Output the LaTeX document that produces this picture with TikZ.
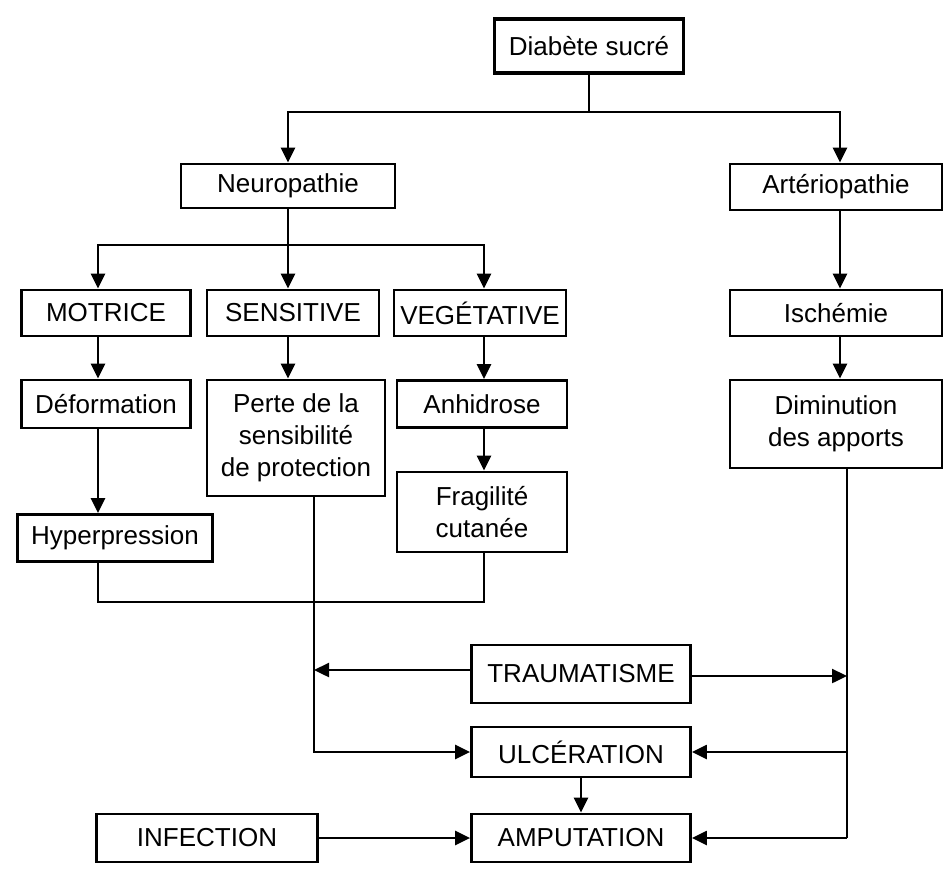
\documentclass[tikz,border=0pt]{standalone}
\usepackage{fontspec}
\setmainfont{Liberation Sans}
\usetikzlibrary{arrows.meta}
\begin{document}
\begin{tikzpicture}[x=1pt,y=-1pt,
  box/.style={draw,line width=2.8pt,inner sep=0pt,align=center,font=\fontsize{26}{32}\selectfont},
  conn/.style={line width=2.4pt},
  arr/.style={conn,-{Triangle[length=15pt,width=14pt]}}]
\useasboundingbox (0,0) rectangle (944,868);
\fill[white] (0,0) rectangle (944,868);
% nodes
\node[box,line width=3.6pt,minimum width=189pt,minimum height=54pt] (diab) at (589,46) {Diabète sucré};
\node[box,minimum width=214pt,minimum height=44pt] (neuro) at (288,186) {Neuropathie};
\node[box,minimum width=212pt,minimum height=46pt] (arter) at (836,187) {Artériopathie};
\node[box,minimum width=212pt,minimum height=46pt] (isch) at (836,313) {Ischémie};
\node[box,minimum width=212pt,minimum height=88pt] (dimin) at (836,424) {Diminution\\des apports};
\node[box,minimum width=169pt,minimum height=46pt] (motr) at (106,313) {MOTRICE};
\node[box,minimum width=172pt,minimum height=46pt] (sens) at (293,313) {SENSITIVE};
\node[box,minimum width=172pt,minimum height=46pt] (veg) at (480,313) {VEGÉTATIVE};
\node[box,minimum width=169pt,minimum height=48pt] (defo) at (106,404) {Déformation};
\node[box,minimum width=178pt,minimum height=116pt] (perte) at (296,438) {Perte de la\\sensibilité\\de protection};
\node[box,minimum width=170pt,minimum height=47pt] (anhi) at (482,404) {Anhidrose};
\node[box,minimum width=170pt,minimum height=80pt] (frag) at (482,512) {Fragilité\\cutanée};
\node[box,minimum width=195pt,minimum height=47pt] (hyper) at (115,538) {Hyperpression};
\node[box,minimum width=219pt,minimum height=58pt] (trau) at (581,674) {TRAUMATISME};
\node[box,minimum width=219pt,minimum height=50pt] (ulc) at (581,752) {ULCÉRATION};
\node[box,minimum width=219pt,minimum height=48pt] (amp) at (581,838) {AMPUTATION};
\node[box,minimum width=221pt,minimum height=48pt] (infe) at (207,838) {INFECTION};
% guide coordinates
\coordinate (xL) at (98,0);
\coordinate (xS) at (288,0);
\coordinate (xV) at (484,0);
\coordinate (xP) at (314,0);
\coordinate (xA) at (840,0);
\coordinate (xR) at (847,0);
\coordinate (yC) at (0,602);
\coordinate (j1) at (589,112);
\coordinate (j2) at (288,245);
% top branch
\draw[conn] (diab.south) -- (j1);
\draw[arr] (j1) -| (neuro.north);
\draw[arr] (j1) -| (arter.north -| xA);
% neuropathie branch
\draw[conn] (neuro.south -| xS) -- (j2);
\draw[arr] (j2) -| (motr.north -| xL);
\draw[arr] (j2) -- (sens.north -| xS);
\draw[arr] (j2) -| (veg.north -| xV);
% arteriopathie chain
\draw[arr] (arter.south -| xA) -- (isch.north -| xA);
\draw[arr] (isch.south -| xA) -- (dimin.north -| xA);
% left chains
\draw[arr] (motr.south -| xL) -- (defo.north -| xL);
\draw[arr] (defo.south -| xL) -- (hyper.north -| xL);
\draw[arr] (sens.south -| xS) -- (perte.north -| xS);
\draw[arr] (veg.south -| xV) -- (anhi.north -| xV);
\draw[arr] (anhi.south -| xV) -- (frag.north -| xV);
% collector
\draw[conn] (hyper.south -| xL) -- (yC -| xL) -- (yC -| xV) -- (frag.south -| xV);
% perte to ulceration
\draw[arr] (perte.south -| xP) -- (ulc.west -| xP) -- (ulc.west);
% traumatisme
\draw[arr] ([yshift=4pt]trau.west) -- ([yshift=4pt]trau.west -| xP);
\draw[arr] ([yshift=-2pt]trau.east) -- ([yshift=-2pt]trau.east -| xR);
% right collector
\draw[conn] (dimin.south -| xR) -- (amp.east -| xR);
\draw[arr] (amp.east -| xR) -- (amp.east);
\draw[arr] (ulc.east -| xR) -- (ulc.east);
% ulceration / infection to amputation
\draw[arr] (ulc.south) -- (amp.north);
\draw[arr] (infe.east) -- (amp.west);
\end{tikzpicture}
\end{document}
